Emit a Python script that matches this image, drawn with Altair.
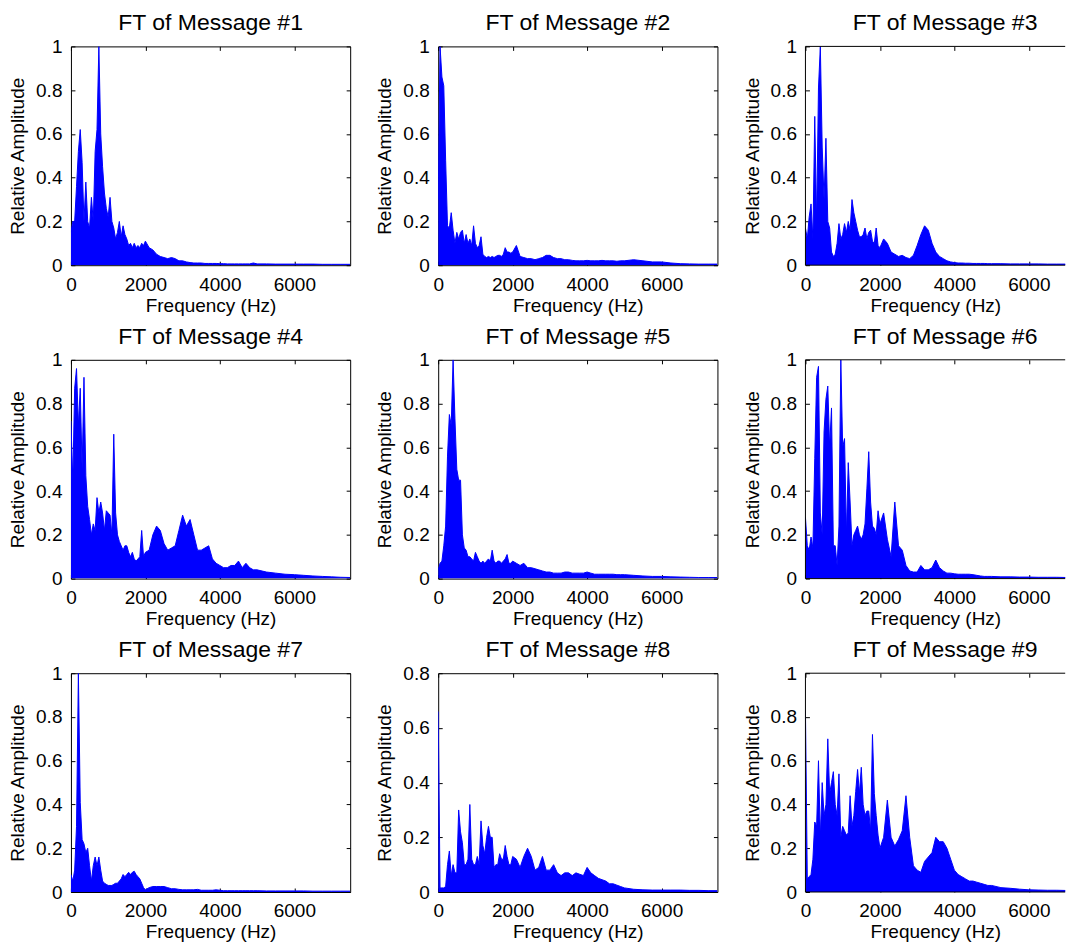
import altair as alt
import pandas as pd

# Frequency grid (Hz) shared by all nine spectra
FREQ = [
    0, 50, 100, 150, 200, 250, 300, 350, 400, 450,
    500, 550, 600, 650, 700, 750, 800, 850, 900, 950,
    1000, 1050, 1100, 1150, 1200, 1250, 1300, 1350, 1400, 1450,
    1500, 1550, 1600, 1650, 1700, 1750, 1800, 1850, 1900, 1950,
    2000,
    2100, 2200, 2300, 2400, 2500, 2600, 2700, 2800, 2900, 3000,
    3100, 3200, 3300, 3400, 3500, 3600, 3700, 3800, 3900, 4000,
    4100, 4200, 4300, 4400, 4500, 4600, 4700, 4800, 4900, 5000,
    5250, 5500, 5750, 6000, 6250, 6500, 6750, 7000, 7250, 7500,
]

AMP_1 = [
    0.15, 0.2, 0.2, 0.36, 0.52, 0.62, 0.47, 0.2, 0.38, 0.2,
    0.17, 0.31, 0.2, 0.52, 0.62, 1.0, 0.6, 0.45, 0.33, 0.26,
    0.22, 0.31, 0.2, 0.17, 0.12, 0.15, 0.2, 0.13, 0.18, 0.14,
    0.12, 0.09, 0.1, 0.08, 0.1, 0.08, 0.09, 0.08, 0.1, 0.09,
    0.11,
    0.08, 0.07, 0.05, 0.04, 0.035, 0.03, 0.035, 0.03, 0.02, 0.02,
    0.015, 0.012, 0.01, 0.01, 0.01, 0.008, 0.008, 0.008, 0.008, 0.007,
    0.007, 0.006, 0.006, 0.006, 0.006, 0.006, 0.006, 0.006, 0.01, 0.006,
    0.006, 0.005, 0.005, 0.005, 0.005, 0.005, 0.004, 0.004, 0.004, 0.004,
]
AMP_2 = [
    0.3, 1.0, 0.86, 0.82, 0.48, 0.18, 0.17, 0.24, 0.16, 0.1,
    0.15, 0.12, 0.15, 0.16, 0.1, 0.14, 0.1, 0.12, 0.09, 0.18,
    0.1, 0.08, 0.09, 0.13, 0.05, 0.04, 0.035, 0.04, 0.035, 0.04,
    0.035, 0.04, 0.045, 0.045, 0.04, 0.05, 0.08, 0.06, 0.06, 0.055,
    0.06,
    0.09, 0.04, 0.035, 0.03, 0.03, 0.025, 0.03, 0.035, 0.045, 0.045,
    0.035, 0.03, 0.03, 0.025, 0.025, 0.022, 0.02, 0.02, 0.02, 0.022,
    0.02, 0.02, 0.02, 0.022, 0.02, 0.02, 0.02, 0.018, 0.02, 0.02,
    0.025, 0.02, 0.015, 0.015, 0.01, 0.007, 0.006, 0.005, 0.005, 0.005,
]
AMP_3 = [
    0.17, 0.12, 0.22, 0.28, 0.12, 0.68, 0.2, 0.81, 1.0, 0.54,
    0.3, 0.58, 0.2, 0.17, 0.06, 0.04, 0.05, 0.1, 0.19, 0.12,
    0.14, 0.19, 0.15, 0.2, 0.16, 0.3, 0.24, 0.2, 0.16, 0.13,
    0.13, 0.14, 0.17, 0.12, 0.15, 0.16, 0.11, 0.1, 0.17, 0.09,
    0.08,
    0.12, 0.1, 0.06, 0.05, 0.04, 0.045, 0.035, 0.03, 0.045, 0.09,
    0.14, 0.18, 0.16, 0.1, 0.06, 0.04, 0.03, 0.02, 0.015, 0.012,
    0.01, 0.01, 0.009, 0.009, 0.008, 0.008, 0.008, 0.008, 0.007, 0.007,
    0.007, 0.006, 0.006, 0.006, 0.006, 0.005, 0.005, 0.005, 0.005, 0.005,
]
AMP_4 = [
    0.72, 0.45, 0.87, 0.96, 0.7, 0.87, 0.5, 0.92, 0.47, 0.33,
    0.27, 0.2, 0.25, 0.22, 0.37, 0.3, 0.35, 0.3, 0.22, 0.31,
    0.3, 0.29, 0.2, 0.66, 0.3, 0.2, 0.17, 0.15, 0.13, 0.15,
    0.15, 0.12, 0.1, 0.12, 0.09, 0.08, 0.09, 0.1, 0.22, 0.1,
    0.12,
    0.13, 0.2, 0.24, 0.22, 0.16, 0.13, 0.14, 0.15, 0.22, 0.29,
    0.24, 0.27, 0.2, 0.13, 0.13, 0.14, 0.15, 0.09, 0.07, 0.06,
    0.05, 0.05, 0.06, 0.06, 0.08, 0.05, 0.07, 0.05, 0.04, 0.04,
    0.03, 0.025, 0.02, 0.018, 0.015, 0.012, 0.01, 0.008, 0.006, 0.005,
]
AMP_5 = [
    0.04, 0.07, 0.08, 0.15, 0.24, 0.56, 0.75, 0.7, 1.0, 0.73,
    0.5, 0.45, 0.45, 0.2, 0.14, 0.13, 0.1, 0.1, 0.09, 0.08,
    0.12, 0.1, 0.08, 0.07, 0.08, 0.07, 0.08, 0.09, 0.08, 0.13,
    0.08, 0.07, 0.08, 0.08, 0.07, 0.08, 0.09, 0.11, 0.07, 0.07,
    0.08,
    0.07, 0.06, 0.07, 0.05, 0.05, 0.045, 0.04, 0.035, 0.03, 0.03,
    0.025, 0.025, 0.025, 0.03, 0.03, 0.025, 0.025, 0.025, 0.025, 0.03,
    0.025, 0.02, 0.02, 0.02, 0.02, 0.02, 0.02, 0.018, 0.018, 0.018,
    0.015, 0.012, 0.01, 0.01, 0.008, 0.007, 0.006, 0.005, 0.005, 0.005,
]
AMP_6 = [
    0.28, 0.15, 0.13, 0.19, 0.14, 0.55, 0.92, 0.97, 0.3, 0.2,
    0.67, 0.82, 0.88, 0.6, 0.78, 0.15, 0.15, 0.06, 0.24, 1.0,
    0.6, 0.64, 0.2, 0.53, 0.35, 0.15, 0.2, 0.22, 0.24, 0.2,
    0.18, 0.2, 0.25, 0.41, 0.58, 0.35, 0.24, 0.23, 0.2, 0.31,
    0.25,
    0.3, 0.18, 0.1, 0.35, 0.15, 0.13, 0.06, 0.035, 0.03, 0.03,
    0.06, 0.04, 0.04, 0.05, 0.085, 0.05, 0.035, 0.025, 0.025, 0.022,
    0.02, 0.02, 0.02, 0.02, 0.018, 0.015, 0.012, 0.01, 0.01, 0.01,
    0.008, 0.008, 0.007, 0.007, 0.006, 0.006, 0.006, 0.005, 0.005, 0.005,
]
AMP_7 = [
    0.08, 0.05, 0.1, 0.3, 1.0, 0.41, 0.24, 0.22, 0.18, 0.2,
    0.12, 0.05, 0.12, 0.16, 0.12, 0.16, 0.1, 0.05, 0.04, 0.035,
    0.03, 0.03, 0.03, 0.035, 0.04, 0.04, 0.05, 0.06, 0.08, 0.07,
    0.08, 0.09, 0.08, 0.09, 0.095, 0.08, 0.07, 0.06, 0.04, 0.02,
    0.01,
    0.02, 0.025, 0.025, 0.025, 0.025, 0.02, 0.015, 0.015, 0.012, 0.01,
    0.01, 0.01, 0.01, 0.012, 0.008, 0.008, 0.008, 0.008, 0.01, 0.008,
    0.006, 0.006, 0.006, 0.006, 0.006, 0.006, 0.006, 0.006, 0.006, 0.006,
    0.005, 0.005, 0.005, 0.005, 0.005, 0.004, 0.004, 0.004, 0.004, 0.004,
]
AMP_8 = [
    0.66, 0.015, 0.015, 0.015, 0.02, 0.1, 0.15, 0.06, 0.1, 0.07,
    0.07, 0.3, 0.22, 0.18, 0.1, 0.1, 0.12, 0.32, 0.12, 0.1,
    0.1, 0.13, 0.1, 0.26, 0.17, 0.14, 0.2, 0.24, 0.2, 0.2,
    0.09, 0.1, 0.1, 0.14, 0.12, 0.12, 0.17, 0.13, 0.1, 0.1,
    0.13,
    0.12, 0.09, 0.13, 0.16, 0.13, 0.08, 0.09, 0.13, 0.08, 0.08,
    0.1, 0.07, 0.06, 0.07, 0.07, 0.06, 0.07, 0.065, 0.06, 0.09,
    0.07, 0.06, 0.05, 0.045, 0.04, 0.03, 0.03, 0.025, 0.02, 0.015,
    0.01, 0.008, 0.007, 0.007, 0.007, 0.007, 0.006, 0.006, 0.005, 0.005,
]
AMP_9 = [
    0.83, 0.06, 0.07, 0.08, 0.15, 0.32, 0.3, 0.6, 0.25, 0.5,
    0.35, 0.4, 0.7, 0.45, 0.5, 0.55, 0.4, 0.35, 0.54, 0.25,
    0.3, 0.28, 0.26, 0.27, 0.44, 0.3, 0.35, 0.46, 0.56, 0.45,
    0.57, 0.4, 0.35, 0.37, 0.37, 0.28, 0.72, 0.45, 0.35, 0.26,
    0.2,
    0.25, 0.42, 0.25, 0.21, 0.24, 0.28, 0.44, 0.25, 0.12, 0.1,
    0.09, 0.14, 0.16, 0.18, 0.25, 0.23, 0.23, 0.2, 0.15, 0.1,
    0.08, 0.07, 0.06, 0.05, 0.05, 0.045, 0.04, 0.035, 0.03, 0.03,
    0.02, 0.017, 0.013, 0.01, 0.009, 0.008, 0.008, 0.007, 0.007, 0.007,
]

AMPS = [AMP_1, AMP_2, AMP_3, AMP_4, AMP_5, AMP_6, AMP_7, AMP_8, AMP_9]
TITLES = [
    "FT of Message #1", "FT of Message #2", "FT of Message #3",
    "FT of Message #4", "FT of Message #5", "FT of Message #6",
    "FT of Message #7", "FT of Message #8", "FT of Message #9",
]
Y_MAX = [1, 1, 1, 1, 1, 1, 1, 0.8, 1]
Y_TICKS = [0, 0.2, 0.4, 0.6, 0.8, 1]
X_TICKS = [0, 2000, 4000, 6000]
X_MAX = 7500

FONT = "Liberation Sans"
BLUE = "#0000ff"
PANEL_W = 279.5
PANEL_H = 219
# the right-hand column is cut off by the figure edge
LAST_W = 260

EDGE = pd.DataFrame({"k": [0]})


def panel(i):
    col = i % 3
    last = col == 2
    w = LAST_W if last else PANEL_W
    xmax = X_MAX * w / PANEL_W
    df = pd.DataFrame({"f": FREQ, "a": AMPS[i]})
    ymax = Y_MAX[i]
    yt = [v for v in Y_TICKS if v <= ymax + 1e-9]
    xs = alt.Scale(domain=[0, xmax], nice=False, zero=False)
    ys = alt.Scale(domain=[0, ymax], nice=False)
    base = alt.Chart(df)
    area = base.mark_area(color=BLUE, clip=True, interpolate="linear").encode(
        x=alt.X("f:Q", scale=xs, axis=alt.Axis(
            orient="bottom", values=X_TICKS, format="d", title="Frequency (Hz)",
            offset=-4, tickSize=4, domain=False, grid=False, labelFlush=False,
            labelOverlap=False, labelPadding=10, titlePadding=2)),
        y=alt.Y("a:Q", scale=ys, axis=alt.Axis(
            orient="left", values=yt, format="~g", title="Relative Amplitude",
            offset=-4, tickSize=4, domain=False, grid=False, labelFlush=False,
            labelOverlap=False, labelPadding=9, titlePadding=8)),
    )
    line = base.mark_line(color=BLUE, strokeWidth=1, clip=True).encode(
        x=alt.X("f:Q", scale=xs, axis=None),
        y=alt.Y("a:Q", scale=ys, axis=None),
    )
    if last:
        right_axis = None
    else:
        right_axis = alt.Axis(
            orient="right", values=yt, labels=False, title=None,
            offset=-4, tickSize=4, domain=False, grid=False)
    frame_ticks = base.mark_point(opacity=0, clip=True).encode(
        x=alt.X("f:Q", scale=xs, axis=alt.Axis(
            orient="top", values=X_TICKS, labels=False, title=None,
            offset=-4, tickSize=4, domain=False, grid=False)),
        y=alt.Y("a:Q", scale=ys, axis=right_axis),
    )
    layers = [area, line, frame_ticks]
    if last:
        # box edges that remain visible (the right edge lies beyond the figure)
        eb = alt.Chart(EDGE)
        layers += [
            eb.mark_rule(color="black", strokeWidth=1).encode(
                x=alt.value(0), x2=alt.value(w), y=alt.value(0)),
            eb.mark_rule(color="black", strokeWidth=1).encode(
                x=alt.value(0), x2=alt.value(w), y=alt.value(PANEL_H)),
            eb.mark_rule(color="black", strokeWidth=1).encode(
                x=alt.value(0), y=alt.value(0), y2=alt.value(PANEL_H)),
        ]
    props = dict(
        width=w, height=PANEL_H,
        title=alt.TitleParams(
            TITLES[i], fontSize=23, font=FONT, fontWeight="normal", color="black",
            anchor="middle", frame="group", offset=2,
            dx=(PANEL_W - w) / 2),
    )
    if last:
        props["view"] = alt.ViewBackground(stroke="transparent")
    return alt.layer(*layers).resolve_axis(
        x="independent", y="independent"
    ).properties(**props)


chart = alt.concat(
    *[panel(i) for i in range(9)],
    columns=3,
    spacing={"row": 94.7, "column": 87.6},
    bounds="flush",
).properties(
    padding={"left": 0, "top": 3, "right": 0, "bottom": 0},
    background="white",
).configure_view(
    stroke="black", strokeWidth=1
).configure_axis(
    labelFont=FONT, labelFontSize=19, labelColor="black",
    titleFont=FONT, titleFontSize=19, titleFontWeight="normal", titleColor="black",
    tickColor="black", tickWidth=1,
)

chart.save("out.html", embed_options={"renderer": "svg", "actions": False})
